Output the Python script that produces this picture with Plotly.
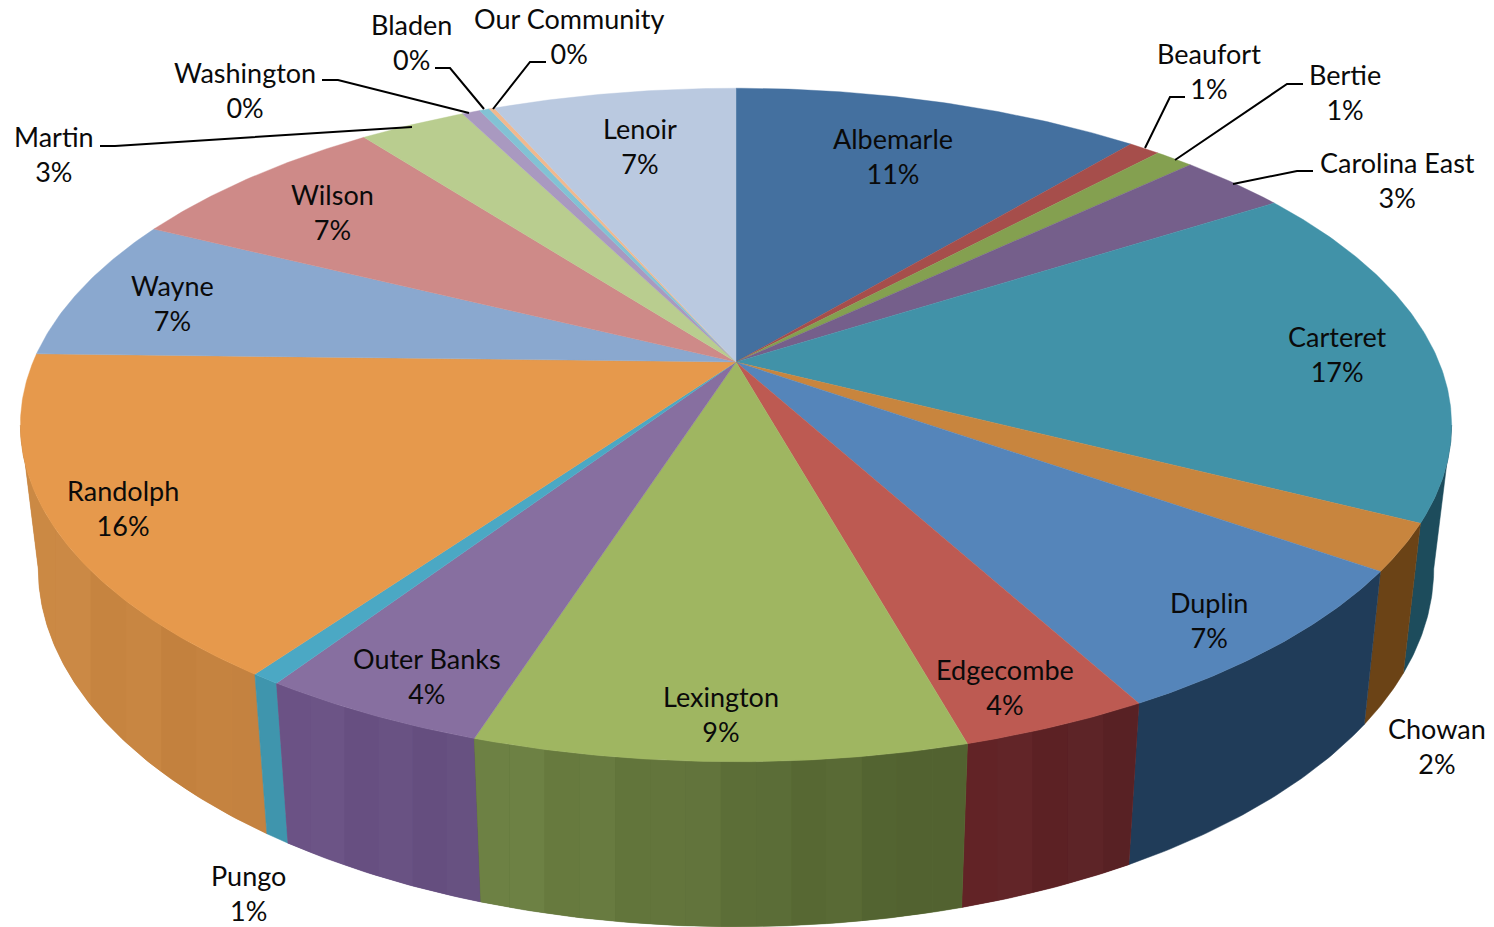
import math
import plotly.graph_objects as go

# ---- data (share of the whole pie, percent) ----
categories = ["Albemarle", "Beaufort", "Bertie", "Carolina East", "Carteret", "Chowan", "Duplin",
              "Edgecombe", "Lexington", "Outer Banks", "Pungo", "Randolph", "Wayne", "Wilson",
              "Martin", "Washington", "Bladen", "Our Community", "Lenoir"]
values = [11.1, 0.85, 1.05, 2.95, 16.55, 2.25, 7.3, 3.6, 9.3, 4.35, 0.55, 15.55, 6.9, 7.3, 2.9, 0.49, 0.27, 0.14, 6.6]

top_colors = ["#44709F", "#A64E4B", "#84A050", "#755F8B", "#4192A8", "#C8853E", "#5585BA", "#BD5A52",
              "#9FB661", "#876FA0", "#4BA8C4", "#E6994C", "#8AA8CF", "#CE8A88", "#B9CD8F", "#A999C0",
              "#82C2D4", "#F0B98F", "#BAC9E0"]
# side wall: colour at the clockwise start and end of each slice
wall_colors = {"Carteret": ("#1B4A5A", "#1F4E5F"), "Chowan": ("#6B4316", "#6B4316"),
               "Duplin": ("#203C59", "#203C59"), "Edgecombe": ("#5A2326", "#632426"),
               "Lexington": ("#4F5F2E", "#6F8345"), "Outer Banks": ("#665080", "#6C5386"),
               "Pungo": ("#3F95AD", "#3F95AD"), "Randolph": ("#C2803E", "#CC8A45")}
striped = ["Edgecombe", "Lexington", "Outer Banks", "Randolph"]
stripe_shift = [0, 2, -2, 1, -2, 1, 2, -1, 0, -2, 2, -1]

label_pos = {"Albemarle": (893, 156), "Beaufort": (1209, 71), "Bertie": (1345, 92), "Carolina East": (1397, 180),
             "Carteret": (1337, 354), "Chowan": (1437, 746), "Duplin": (1209, 620), "Edgecombe": (1005, 687),
             "Lexington": (721, 714), "Outer Banks": (427, 676), "Pungo": (248, 893), "Randolph": (123, 508),
             "Wayne": (172, 303), "Wilson": (332, 212), "Martin": (54, 154), "Washington": (245, 90),
             "Bladen": (411, 42), "Our Community": (569, 36), "Lenoir": (640, 146)}
leaders = [[(1185, 97), (1170, 97), (1145, 148)],
           [(1303, 84), (1287, 84), (1175, 160)],
           [(1313, 171), (1297, 171), (1233, 184)],
           [(100, 146), (115, 146), (412, 127)],
           [(322, 80), (338, 80), (469, 113)],
           [(435, 68), (450, 68), (484, 109)],
           [(546, 62), (530, 62), (493, 109)]]

# ---- perspective projection of the disc ----
CX, CY, A, B, K = 736, 362, 703, 325, 0.187
EDGE_R, EDGE_L = 100.8, 259.2   # rim angles where the disc silhouette turns


def top_pt(deg):
    t = math.radians(deg)
    u, v = math.sin(t), math.cos(t)
    d = 1 + K * v
    return CX + A * u / d, CY - B * v / d


def bottom_pt(deg):
    x, y = top_pt(deg)
    return CX + 0.975 * (x - CX), 117 + 1.063 * y


def mix(c1, c2, f):
    a = [int(c1[i:i + 2], 16) for i in (1, 3, 5)]
    b = [int(c2[i:i + 2], 16) for i in (1, 3, 5)]
    return tuple(a[i] + (b[i] - a[i]) * f for i in range(3))


def clip_x(poly, x0, keep_right):
    out = []
    for i in range(len(poly)):
        p, q = poly[i], poly[(i + 1) % len(poly)]
        pin = p[0] >= x0 if keep_right else p[0] <= x0
        qin = q[0] >= x0 if keep_right else q[0] <= x0
        if pin:
            out.append(p)
        if pin != qin:
            f = (x0 - p[0]) / (q[0] - p[0])
            out.append((x0, p[1] + (q[1] - p[1]) * f))
    return out


def poly_trace(pts, col, lw=0.5):
    xs = [p[0] for p in pts] + [pts[0][0]]
    ys = [p[1] for p in pts] + [pts[0][1]]
    return go.Scatter(x=xs, y=ys, mode="lines", fill="toself", fillcolor=col,
                      line=dict(color=col, width=lw), hoverinfo="skip", showlegend=False)


fig = go.Figure()
total = sum(values)
bounds = [0]
for v in values:
    bounds.append(bounds[-1] + v / total * 360)

# walls, outermost first so the front ones are on top
walls = []
for i, name in enumerate(categories):
    if name in wall_colors:
        lo, hi = max(bounds[i], EDGE_R), min(bounds[i + 1], EDGE_L)
        walls.append((abs((lo + hi) / 2 - 180), name, lo, hi))
walls.sort(key=lambda w: -w[0])
BAND = 34
for _, name, lo, hi in walls:
    n = max(2, int((hi - lo) / 0.5))
    angs = [lo + (hi - lo) * j / n for j in range(n + 1)]
    poly = [top_pt(a) for a in angs] + [bottom_pt(a) for a in reversed(angs)]
    c_right, c_left = wall_colors[name]
    fig.add_trace(poly_trace(poly, "rgb(%d,%d,%d)" % mix(c_right, c_left, 0.5)))
    if name in striped:
        xmin = min(p[0] for p in poly)
        xmax = max(p[0] for p in poly)
        nb = max(2, int((xmax - xmin) / BAND))
        for j in range(nb):
            x0 = xmin + (xmax - xmin) * j / nb
            x1 = xmin + (xmax - xmin) * (j + 1) / nb
            piece = clip_x(clip_x(poly, x0, True), x1, False)
            if len(piece) < 3:
                continue
            rgb = mix(c_left, c_right, (j + 0.5) / nb)
            amp = stripe_shift[j % len(stripe_shift)]
            col = "rgb(%d,%d,%d)" % tuple(max(0, min(255, c + amp)) for c in rgb)
            fig.add_trace(poly_trace(piece, col, 0))

# top face
for i, name in enumerate(categories):
    a0, a1 = bounds[i], bounds[i + 1]
    n = max(2, int((a1 - a0) / 0.5))
    rim = [top_pt(a0 + (a1 - a0) * j / n) for j in range(n + 1)]
    xs = [CX] + [p[0] for p in rim] + [CX]
    ys = [CY] + [p[1] for p in rim] + [CY]
    fig.add_trace(go.Scatter(x=xs, y=ys, mode="lines", fill="toself", fillcolor=top_colors[i],
                             line=dict(color=top_colors[i], width=0.4), name=name,
                             hoverinfo="name", showlegend=False))

# leader lines
for pts in leaders:
    fig.add_trace(go.Scatter(x=[p[0] for p in pts], y=[p[1] for p in pts], mode="lines",
                             line=dict(color="#000000", width=2), hoverinfo="skip", showlegend=False))

# labels
for name, v in zip(categories, values):
    x, y = label_pos[name]
    fig.add_annotation(x=x, y=y, xref="x", yref="y", showarrow=False, xanchor="center", yanchor="middle",
                       text="%s<br>%d%%" % (name, round(v / total * 100)),
                       font=dict(family="Lato", size=27, color="#0a0a0a"), align="center")

fig.update_layout(width=1494, height=927, margin=dict(l=0, r=0, t=0, b=0), autosize=False,
                  paper_bgcolor="white", plot_bgcolor="white", showlegend=False,
                  xaxis=dict(range=[0, 1494], visible=False, fixedrange=True),
                  yaxis=dict(range=[927, 0], visible=False, fixedrange=True))
fig.write_html("out.html", config={"displayModeBar": False},
               post_script="document.body.style.margin='0';")
